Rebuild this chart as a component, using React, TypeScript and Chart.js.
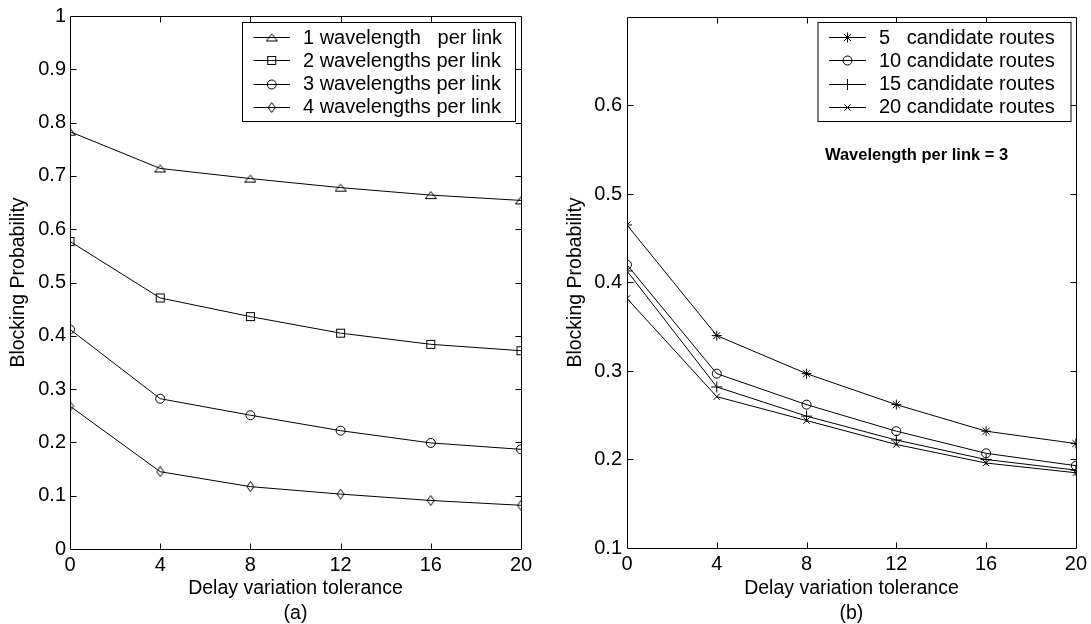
import React, { useEffect, useRef } from 'react';
import { Chart, registerables } from 'chart.js';
import { drawPoint } from 'chart.js/helpers';

Chart.register(...registerables);

// ---------- data ----------
const delayTolerance = [0, 4, 8, 12, 16, 20];
const xTickValues = [0, 4, 8, 12, 16, 20];
const leftYTickValues = [0, 0.1, 0.2, 0.3, 0.4, 0.5, 0.6, 0.7, 0.8, 0.9, 1];
const rightYTickValues = [0.1, 0.2, 0.3, 0.4, 0.5, 0.6];

const leftLabels = [
  '1 wavelength   per link',
  '2 wavelengths per link',
  '3 wavelengths per link',
  '4 wavelengths per link',
];
const oneWavelength = [0.783, 0.714, 0.695, 0.678, 0.664, 0.654];
const twoWavelengths = [0.577, 0.471, 0.436, 0.405, 0.384, 0.372];
const threeWavelengths = [0.412, 0.282, 0.251, 0.222, 0.199, 0.187];
const fourWavelengths = [0.268, 0.145, 0.117, 0.103, 0.091, 0.082];

const rightLabels = [
  '5   candidate routes',
  '10 candidate routes',
  '15 candidate routes',
  '20 candidate routes',
];
const routes5 = [0.465, 0.34, 0.297, 0.262, 0.232, 0.218];
const routes10 = [0.42, 0.297, 0.262, 0.232, 0.207, 0.193];
const routes15 = [0.413, 0.282, 0.249, 0.222, 0.2, 0.188];
const routes20 = [0.382, 0.271, 0.244, 0.217, 0.196, 0.185];

const xTitle = 'Delay variation tolerance';
const yTitle = 'Blocking Probability';
const noteText = 'Wavelength per link = 3';

// ---------- styling ----------
const FAMILY = "'Liberation Sans', Arial, Helvetica, sans-serif";

function makeMarker(kind: string): HTMLCanvasElement {
  const c = document.createElement('canvas');
  const g = c.getContext('2d') as CanvasRenderingContext2D;
  if (kind === 'triangle') {
    c.width = 12; c.height = 10;
    g.strokeStyle = '#000'; g.lineWidth = 1;
    g.beginPath(); g.moveTo(6, 1.5); g.lineTo(11.5, 8.5); g.lineTo(0.5, 8.5); g.closePath(); g.stroke();
  } else if (kind === 'square') {
    c.width = 11; c.height = 11;
    g.strokeStyle = '#000'; g.lineWidth = 1;
    g.strokeRect(1.5, 1.5, 8, 8);
  } else {
    c.width = 9; c.height = 11;
    g.strokeStyle = '#000'; g.lineWidth = 1;
    g.beginPath(); g.moveTo(4.5, 0.5); g.lineTo(8, 5.5); g.lineTo(4.5, 10.5); g.lineTo(1, 5.5); g.closePath(); g.stroke();
  }
  return c;
}

const framePlugin = {
  id: 'matlabFrame',
  afterDraw(chart: any) {
    const { ctx, chartArea: a, scales } = chart;
    const L = Math.round(a.left) + 0.5;
    const R = Math.round(a.right) + 0.5;
    const T = Math.round(a.top) + 0.5;
    const B = Math.round(a.bottom) + 0.5;
    const tl = 6;
    ctx.save();
    ctx.strokeStyle = '#000';
    ctx.lineWidth = 1;
    ctx.beginPath();
    ctx.rect(L, T, R - L, B - T);
    for (const t of scales.x.ticks) {
      if (t.value <= scales.x.min || t.value >= scales.x.max) continue;
      const px = Math.round(scales.x.getPixelForValue(t.value)) + 0.5;
      ctx.moveTo(px, B); ctx.lineTo(px, B - tl);
      ctx.moveTo(px, T); ctx.lineTo(px, T + tl);
    }
    for (const t of scales.y.ticks) {
      if (t.value <= scales.y.min || t.value >= scales.y.max) continue;
      const py = Math.round(scales.y.getPixelForValue(t.value)) + 0.5;
      ctx.moveTo(L, py); ctx.lineTo(L + tl, py);
      ctx.moveTo(R, py); ctx.lineTo(R - tl, py);
    }
    ctx.stroke();
    ctx.restore();
  },
};

function legendPlugin(box: any) {
  return {
    id: 'boxLegend',
    afterDraw(chart: any) {
      const ctx = chart.ctx;
      ctx.save();
      ctx.fillStyle = '#fff';
      ctx.fillRect(box.x, box.y, box.w, box.h);
      ctx.strokeStyle = '#000';
      ctx.lineWidth = 1;
      ctx.strokeRect(box.x + 0.5, box.y + 0.5, box.w, box.h);
      chart.data.datasets.forEach((ds: any, i: number) => {
        const y = box.rowY + i * box.rowStep;
        ctx.beginPath();
        ctx.strokeStyle = '#000';
        ctx.moveTo(box.lineX0, Math.round(y) + 0.5);
        ctx.lineTo(box.lineX1, Math.round(y) + 0.5);
        ctx.stroke();
        ctx.fillStyle = 'rgba(0,0,0,0)';
        ctx.strokeStyle = '#000';
        ctx.lineWidth = 1;
        drawPoint(ctx, { pointStyle: ds.pointStyle, radius: ds.pointRadius, rotation: 0, borderWidth: 1 } as any,
          (box.lineX0 + box.lineX1) / 2, Math.round(y) + 0.5);
        ctx.fillStyle = '#000';
        ctx.font = `20px ${FAMILY}`;
        ctx.textAlign = 'left';
        ctx.textBaseline = 'middle';
        ctx.fillText(ds.label, box.textX, y + 1);
      });
      ctx.restore();
    },
  };
}

function notePlugin(note: any) {
  return {
    id: 'note',
    afterDraw(chart: any) {
      const { ctx, scales } = chart;
      ctx.save();
      ctx.fillStyle = '#000';
      ctx.font = `bold 16.5px ${FAMILY}`;
      ctx.textAlign = 'left';
      ctx.textBaseline = 'middle';
      ctx.fillText(note.text, scales.x.getPixelForValue(note.x), scales.y.getPixelForValue(note.y));
      ctx.restore();
    },
  };
}

function panelConfig(p: any): any {
  const tickFont = { family: FAMILY, size: 20 };
  const titleFont = { family: FAMILY, size: 19.5 };
  const noGrid = { display: false, drawTicks: false, tickLength: 0 };
  return {
    type: 'line',
    data: {
      datasets: p.series.map((s: any) => ({
        label: s.label,
        data: delayTolerance.map((x, i) => ({ x, y: s.values[i] })),
        borderColor: '#000',
        borderWidth: 1,
        pointStyle: s.marker,
        pointRadius: s.radius,
        pointBorderColor: '#000',
        pointBackgroundColor: 'rgba(0,0,0,0)',
        pointBorderWidth: 1,
        fill: false,
        tension: 0,
      })),
    },
    options: {
      responsive: false,
      animation: false,
      events: [],
      layout: { padding: p.padding },
      plugins: { legend: { display: false }, tooltip: { enabled: false } },
      scales: {
        x: {
          type: 'linear',
          min: 0,
          max: 20,
          afterBuildTicks: (s: any) => { s.ticks = xTickValues.map((v) => ({ value: v })); },
          afterFit: (s: any) => { s.height = p.xAxisHeight; },
          grid: noGrid,
          border: { display: false },
          ticks: { font: tickFont, color: '#000', padding: 4, maxRotation: 0, autoSkip: false, callback: (v: any) => String(v) },
          title: {
            display: true,
            text: [xTitle, p.tag],
            font: { ...titleFont, lineHeight: '25px' },
            color: '#000',
            padding: { top: 0, bottom: -2 },
          },
        },
        y: {
          type: 'linear',
          min: p.yMin,
          max: p.yMax,
          afterBuildTicks: (s: any) => { s.ticks = p.yTicks.map((v: number) => ({ value: v })); },
          afterFit: (s: any) => { s.width = p.yAxisWidth; },
          grid: noGrid,
          border: { display: false },
          ticks: {
            font: tickFont, color: '#000', padding: p.yTickPad, autoSkip: false,
            callback: (v: any) => (v === 0 ? '0' : v === 1 ? '1' : Number(v).toFixed(1)),
          },
          title: {
            display: true,
            text: yTitle,
            font: titleFont,
            color: '#000',
            padding: { top: p.yTitlePad, bottom: 0 },
          },
        },
      },
    },
    plugins: [framePlugin, legendPlugin(p.legend), ...(p.note ? [notePlugin(p.note)] : [])],
  };
}

export default function App() {
  const leftRef = useRef<HTMLCanvasElement>(null);
  const rightRef = useRef<HTMLCanvasElement>(null);

  useEffect(() => {
    const tri = makeMarker('triangle');
    const sq = makeMarker('square');
    const dia = makeMarker('diamond');

    const left = new Chart(leftRef.current as HTMLCanvasElement, panelConfig({
      series: [
        { label: leftLabels[0], values: oneWavelength, marker: tri, radius: 5 },
        { label: leftLabels[1], values: twoWavelengths, marker: sq, radius: 5 },
        { label: leftLabels[2], values: threeWavelengths, marker: 'circle', radius: 4.5 },
        { label: leftLabels[3], values: fourWavelengths, marker: dia, radius: 5 },
      ],
      tag: '(a)',
      padding: { left: 0, top: 15, right: 24, bottom: 0 },
      xAxisHeight: 75,
      yAxisWidth: 70,
      yTickPad: 4,
      yTitlePad: 6.5,
      yMin: 0,
      yMax: 1,
      yTicks: leftYTickValues,
      legend: { x: 242, y: 22, w: 273, h: 99, lineX0: 253.5, lineX1: 290, textX: 303, rowY: 37.3, rowStep: 23.1 },
    }));

    const right = new Chart(rightRef.current as HTMLCanvasElement, panelConfig({
      series: [
        { label: rightLabels[0], values: routes5, marker: 'star', radius: 5 },
        { label: rightLabels[1], values: routes10, marker: 'circle', radius: 4.5 },
        { label: rightLabels[2], values: routes15, marker: 'cross', radius: 5.5 },
        { label: rightLabels[3], values: routes20, marker: 'crossRot', radius: 4.5 },
      ],
      tag: '(b)',
      padding: { left: 0, top: 15, right: 14, bottom: 0 },
      xAxisHeight: 76,
      yAxisWidth: 82,
      yTickPad: 5,
      yTitlePad: 19,
      yMin: 0.1,
      yMax: 0.7,
      yTicks: rightYTickValues,
      legend: { x: 272.5, y: 22, w: 253, h: 99, lineX0: 284, lineX1: 321, textX: 334, rowY: 37.3, rowStep: 23.1 },
      note: { text: noteText, x: 8.82, y: 0.544 },
    }));

    return () => {
      left.destroy();
      right.destroy();
    };
  }, []);

  return (
    <div style={{ position: 'absolute', left: 0, top: 0, width: 1091, height: 624, background: '#fff', overflow: 'hidden' }}>
      <canvas ref={leftRef} width={545} height={624} style={{ position: 'absolute', left: 0, top: 0 }} />
      <canvas ref={rightRef} width={546} height={624} style={{ position: 'absolute', left: 545, top: 0 }} />
    </div>
  );
}
